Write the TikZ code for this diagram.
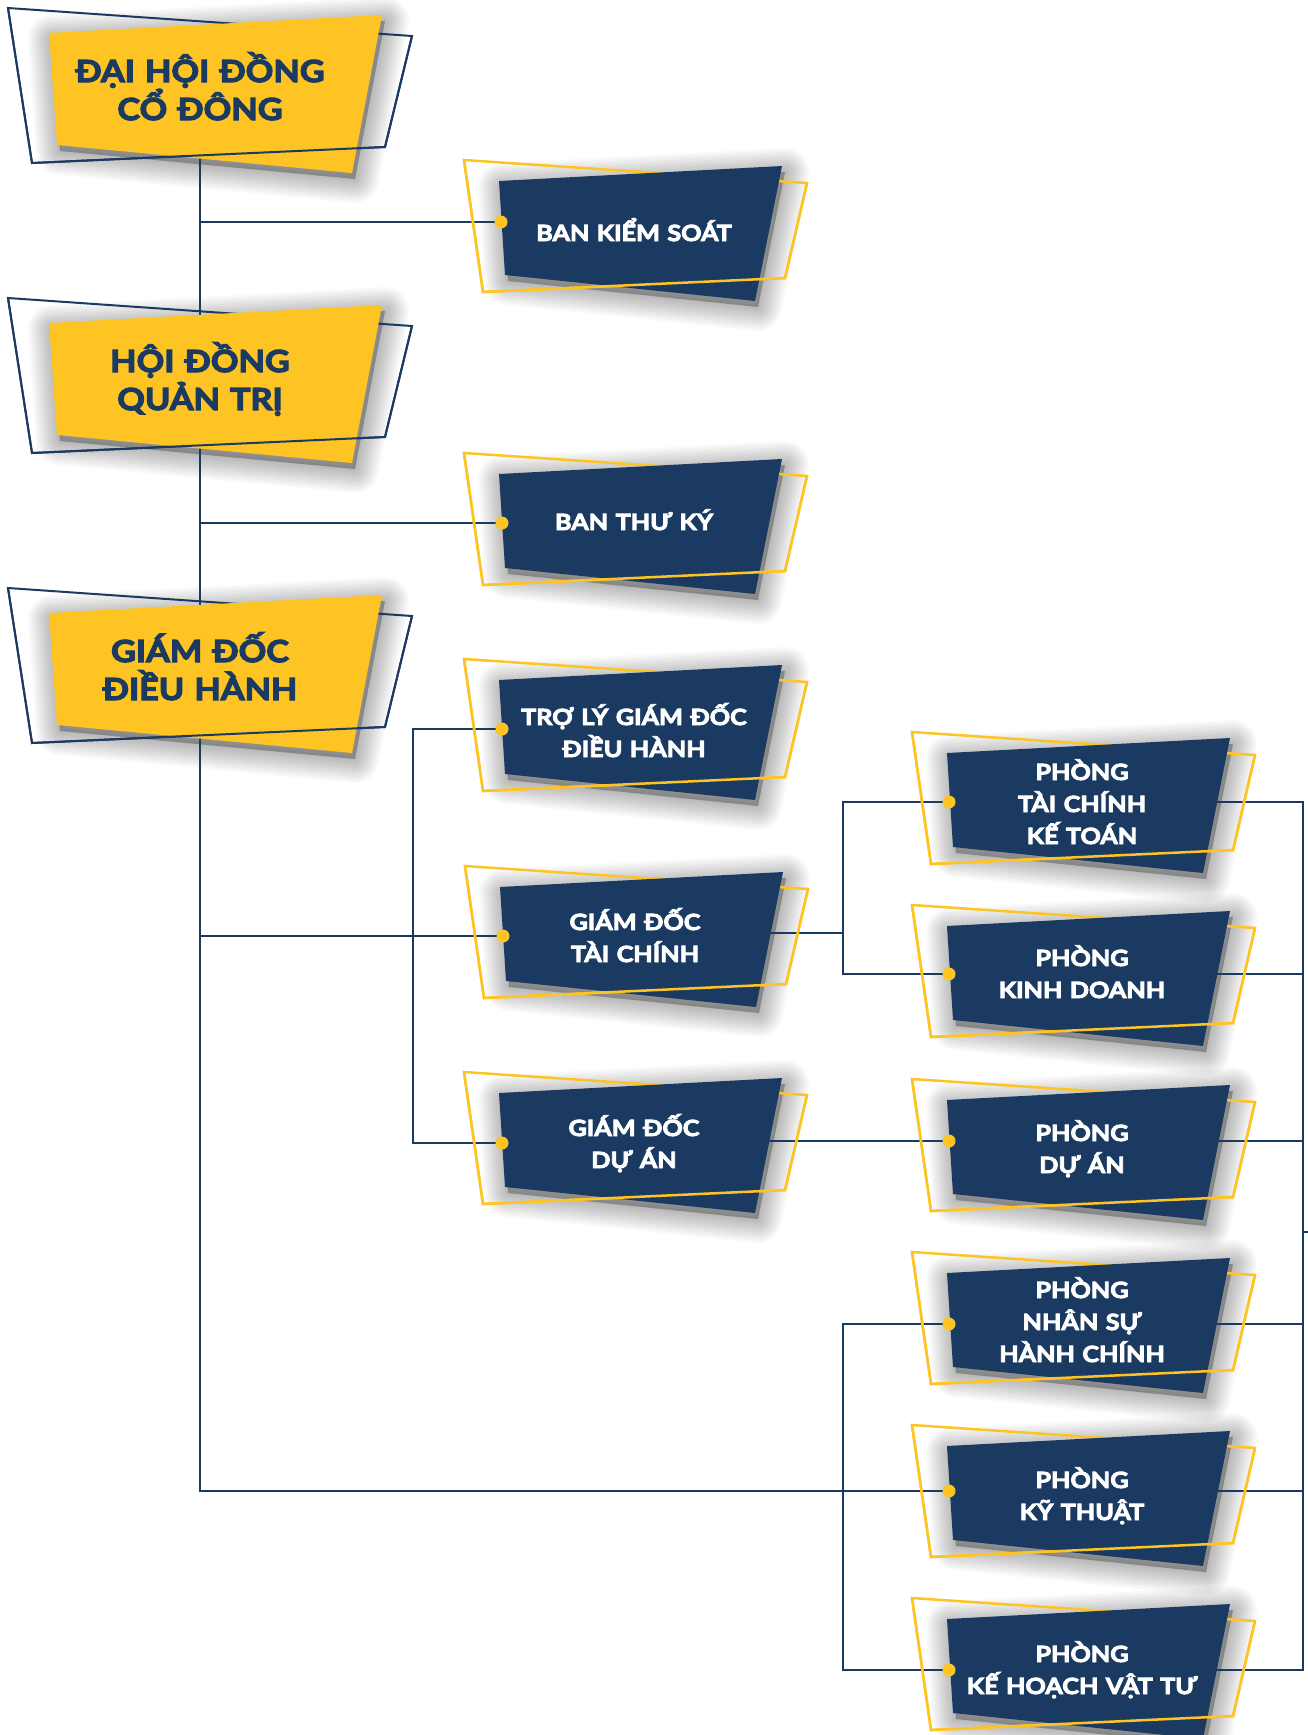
\documentclass[tikz,border=0pt]{standalone}
\usepackage{fontspec}
\newfontfamily\boxfont{Lato}[UprightFont={* Bold}, FakeStretch=1.13, FakeBold=4]
\definecolor{navy}{HTML}{1B3A62}
\definecolor{gold}{HTML}{FEC424}
\pgfdeclarelayer{bglayer}
\pgfdeclarelayer{shadowlayer}
\pgfdeclarelayer{linelayer}
\pgfsetlayers{bglayer,shadowlayer,linelayer,main}
\tikzset{
  conn/.style={draw=navy, line width=2pt},
  navyline/.style={draw=navy, line width=2pt, line join=miter},
  goldline/.style={draw=gold, line width=2.5pt, line join=miter},
  shadowstroke/.style={fill=black, draw=black, opacity=0.022, line join=round, shift={(3,6)}},
  bigtext/.style={anchor=base, text width=330pt, align=center, text=navy, inner sep=0pt,
    font=\boxfont\fontsize{30.3}{38}\selectfont},
  darktext/.style={anchor=base, text width=300pt, align=center, text=white, inner sep=0pt,
    font=\boxfont\fontsize{22.3}{32}\selectfont},
  dotfill/.style={fill=gold}
}
\newcommand\bigbox[3]{%
  \begin{scope}[shift={(8,#2)}]
    \begin{pgfonlayer}{shadowlayer}
      \foreach \w in {48,44,40,36,32,28,24,20,16,12,8,4}
        \filldraw[shadowstroke, line width=\w pt] (41,25) -- (374,7) -- (344,165) -- (49,137) -- cycle;
    \end{pgfonlayer}
    \draw[navyline] (0,0) -- (404,28) -- (377,139) -- (24,155) -- cycle;
    \fill[gold] (41,25) -- (374,7) -- (344,165) -- (49,137) -- cycle;
    \draw[navyline] (404,28) -- (377,139) -- (24,155) -- (0,0);
    \node[bigtext] (#1) at (192,74) {#3};
  \end{scope}}
\newcommand\darkbox[5]{%
  \begin{scope}[shift={(#2,#3)}]
    \begin{pgfonlayer}{shadowlayer}
      \foreach \w in {48,44,40,36,32,28,24,20,16,12,8,4}
        \filldraw[shadowstroke, line width=\w pt] (35,21) -- (318,6) -- (291,141) -- (41,115) -- cycle;
    \end{pgfonlayer}
    \draw[goldline] (0,0) -- (343,23) -- (321,118) -- (19,132) -- cycle;
    \fill[navy] (35,21) -- (318,6) -- (291,141) -- (41,115) -- cycle;
    \draw[goldline] (343,23) -- (321,118) -- (19,132) -- (0,0);
    \node[darktext] (#1) at (170,#4) {#5};
  \end{scope}}
\begin{document}
\begin{tikzpicture}[x=1pt,y=-1pt]
\useasboundingbox (0,0) rectangle (1307,1735);
\begin{pgfonlayer}{bglayer}
  \fill[white] (0,0) rectangle (1307,1735);
\end{pgfonlayer}

% boxes
\bigbox{dhdcd}{8}{ĐẠI HỘI ĐỒNG\\CỔ ĐÔNG}
\bigbox{hdqt}{298}{HỘI ĐỒNG\\QUẢN TRỊ}
\bigbox{gddh}{588}{GIÁM ĐỐC\\ĐIỀU HÀNH}

\darkbox{bks}{464}{160}{81}{BAN KIỂM SOÁT}
\darkbox{btk}{464}{453}{77}{BAN THƯ KÝ}
\darkbox{tlgd}{464}{659}{66}{TRỢ LÝ GIÁM ĐỐC\\ĐIỀU HÀNH}
\darkbox{gdtc}{465}{866}{64}{GIÁM ĐỐC\\TÀI CHÍNH}
\darkbox{gdda}{464}{1072}{64}{GIÁM ĐỐC\\DỰ ÁN}
\darkbox{ptckt}{912}{732}{48}{PHÒNG\\TÀI CHÍNH\\KẾ TOÁN}
\darkbox{pkd}{912}{905}{61}{PHÒNG\\KINH DOANH}
\darkbox{pda}{912}{1079}{62}{PHÒNG\\DỰ ÁN}
\darkbox{pnshc}{912}{1252}{46}{PHÒNG\\NHÂN SỰ\\HÀNH CHÍNH}
\darkbox{pkt}{912}{1425}{63}{PHÒNG\\KỸ THUẬT}
\darkbox{pkhvt}{912}{1598}{64}{PHÒNG\\KẾ HOẠCH VẬT TƯ}

% connection points
\coordinate (bks-in) at (501,222);
\coordinate (btk-in) at (502,523);
\coordinate (tlgd-in) at (502,729);
\coordinate (gdtc-in) at (503,936);
\coordinate (gdda-in) at (502,1143);
\coordinate (ptckt-in) at (949,802);
\coordinate (pkd-in) at (949,974);
\coordinate (pda-in) at (949,1141);
\coordinate (pnshc-in) at (949,1324);
\coordinate (pkt-in) at (949,1491);
\coordinate (pkhvt-in) at (949,1670);
\coordinate (gdtc-out) at (760,933);
\coordinate (gdda-out) at (760,1141);
\coordinate (ptckt-out) at (1210,802);
\coordinate (pkd-out) at (1210,974);
\coordinate (pda-out) at (1210,1141);
\coordinate (pnshc-out) at (1210,1324);
\coordinate (pkt-out) at (1210,1491);
\coordinate (pkhvt-out) at (1210,1670);
\coordinate (trunk) at (200,150);
\coordinate (busA) at (413,936);
\coordinate (busB) at (843,933);
\coordinate (busC) at (843,1491);
\coordinate (busR) at (1303,1232);
\coordinate (stub) at (1312,1232);

\begin{pgfonlayer}{linelayer}
  \draw[conn] (trunk) |- (pkt-in);
  \draw[conn] (trunk) |- (bks-in);
  \draw[conn] (trunk) |- (btk-in);
  \draw[conn] (trunk) |- (gdtc-in);
  \draw[conn] (tlgd-in) -| (busA) |- (gdda-in);
  \draw[conn] (gdtc-out) -- (busB);
  \draw[conn] (ptckt-in) -| (busB) |- (pkd-in);
  \draw[conn] (gdda-out) -- (pda-in);
  \draw[conn] (pnshc-in) -| (busC) |- (pkhvt-in);
  \draw[conn] (ptckt-out) -| (busR) |- (pkhvt-out);
  \draw[conn] (pkd-out) -- (pkd-out -| busR);
  \draw[conn] (pda-out) -- (pda-out -| busR);
  \draw[conn] (pnshc-out) -- (pnshc-out -| busR);
  \draw[conn] (pkt-out) -- (pkt-out -| busR);
  \draw[conn] (busR) -- (stub);
\end{pgfonlayer}

\foreach \d in {bks-in,btk-in,tlgd-in,gdtc-in,gdda-in,ptckt-in,pkd-in,pda-in,pnshc-in,pkt-in,pkhvt-in}
  \fill[dotfill] (\d) circle[radius=6.5pt];
\end{tikzpicture}
\end{document}
